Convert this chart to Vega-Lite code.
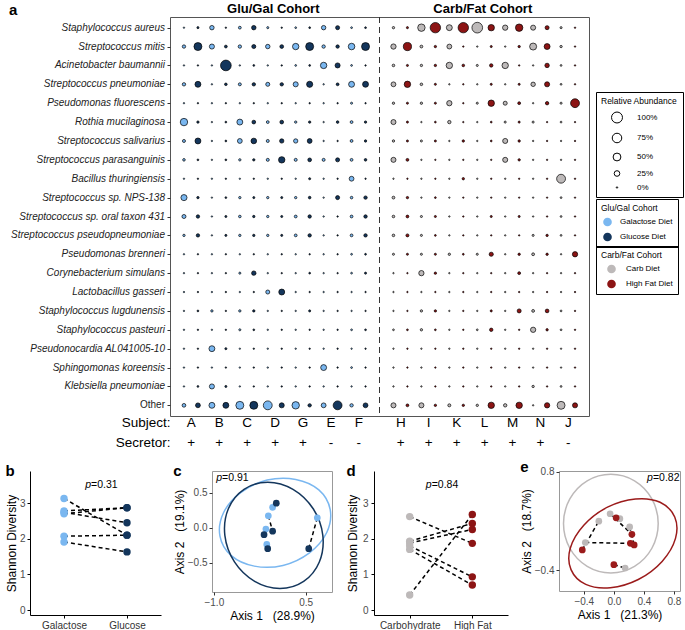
{
  "$schema": "https://vega.github.io/schema/vega-lite/v6.json",
  "padding": {"left": 5, "top": 1, "right": 0, "bottom": 0},
  "config": {
    "font": "Liberation Sans",
    "view": {"stroke": null},
    "axis": {"grid": false, "labelFont": "Liberation Sans", "titleFont": "Liberation Sans"},
    "legend": {"labelFont": "Liberation Sans", "titleFont": "Liberation Sans"},
    "title": {"font": "Liberation Sans"}
  },
  "datasets": {
    "taxa": [
      {"taxon":"Staphylococcus aureus","A_Gal":0,"A_Glu":2,"B_Gal":15,"B_Glu":0,"C_Gal":5,"C_Glu":15,"D_Gal":2,"D_Glu":0,"G_Gal":1,"G_Glu":1,"E_Gal":15,"E_Glu":12,"F_Gal":1,"F_Glu":1,"H_Carb":3,"H_Fat":2,"I_Carb":45,"I_Fat":90,"K_Carb":28,"K_Fat":90,"L_Carb":95,"L_Fat":33,"M_Carb":22,"M_Fat":45,"N_Carb":20,"N_Fat":12,"J_Carb":2,"J_Fat":0},
      {"taxon":"Streptococcus mitis","A_Gal":8,"A_Glu":52,"B_Gal":20,"B_Glu":5,"C_Gal":8,"C_Glu":12,"D_Gal":15,"D_Glu":10,"G_Gal":33,"G_Glu":52,"E_Gal":8,"E_Glu":8,"F_Gal":35,"F_Glu":52,"H_Carb":22,"H_Fat":55,"I_Carb":5,"I_Fat":3,"K_Carb":18,"K_Fat":0,"L_Carb":0,"L_Fat":2,"M_Carb":0,"M_Fat":3,"N_Carb":40,"N_Fat":28,"J_Carb":3,"J_Fat":0},
      {"taxon":"Acinetobacter baumannii","A_Gal":0,"A_Glu":0,"B_Gal":0,"B_Glu":95,"C_Gal":0,"C_Glu":1,"D_Gal":0,"D_Glu":0,"G_Gal":1,"G_Glu":1,"E_Gal":33,"E_Glu":20,"F_Gal":1,"F_Glu":0,"H_Carb":4,"H_Fat":2,"I_Carb":3,"I_Fat":3,"K_Carb":33,"K_Fat":4,"L_Carb":2,"L_Fat":8,"M_Carb":33,"M_Fat":0,"N_Carb":0,"N_Fat":15,"J_Carb":1,"J_Fat":0},
      {"taxon":"Streptococcus pneumoniae","A_Gal":8,"A_Glu":28,"B_Gal":0,"B_Glu":4,"C_Gal":6,"C_Glu":8,"D_Gal":12,"D_Glu":8,"G_Gal":20,"G_Glu":30,"E_Gal":0,"E_Glu":5,"F_Gal":28,"F_Glu":28,"H_Carb":18,"H_Fat":33,"I_Carb":4,"I_Fat":2,"K_Carb":0,"K_Fat":0,"L_Carb":0,"L_Fat":2,"M_Carb":0,"M_Fat":2,"N_Carb":15,"N_Fat":20,"J_Carb":1,"J_Fat":0},
      {"taxon":"Pseudomonas fluorescens","A_Gal":0,"A_Glu":0,"B_Gal":0,"B_Glu":0,"C_Gal":0,"C_Glu":0,"D_Gal":0,"D_Glu":0,"G_Gal":0,"G_Glu":0,"E_Gal":0,"E_Glu":0,"F_Gal":2,"F_Glu":0,"H_Carb":3,"H_Fat":2,"I_Carb":3,"I_Fat":2,"K_Carb":22,"K_Fat":0,"L_Carb":2,"L_Fat":33,"M_Carb":12,"M_Fat":5,"N_Carb":0,"N_Fat":8,"J_Carb":2,"J_Fat":65},
      {"taxon":"Rothia mucilaginosa","A_Gal":45,"A_Glu":3,"B_Gal":0,"B_Glu":1,"C_Gal":28,"C_Glu":10,"D_Gal":5,"D_Glu":10,"G_Gal":3,"G_Glu":3,"E_Gal":0,"E_Glu":4,"F_Gal":5,"F_Glu":3,"H_Carb":20,"H_Fat":2,"I_Carb":0,"I_Fat":1,"K_Carb":8,"K_Fat":0,"L_Carb":0,"L_Fat":1,"M_Carb":2,"M_Fat":2,"N_Carb":2,"N_Fat":0,"J_Carb":1,"J_Fat":0},
      {"taxon":"Streptococcus salivarius","A_Gal":6,"A_Glu":28,"B_Gal":0,"B_Glu":1,"C_Gal":18,"C_Glu":25,"D_Gal":6,"D_Glu":14,"G_Gal":14,"G_Glu":18,"E_Gal":0,"E_Glu":0,"F_Gal":5,"F_Glu":3,"H_Carb":3,"H_Fat":2,"I_Carb":2,"I_Fat":2,"K_Carb":0,"K_Fat":3,"L_Carb":0,"L_Fat":1,"M_Carb":20,"M_Fat":3,"N_Carb":0,"N_Fat":0,"J_Carb":0,"J_Fat":0},
      {"taxon":"Streptococcus parasanguinis","A_Gal":4,"A_Glu":1,"B_Gal":0,"B_Glu":1,"C_Gal":3,"C_Glu":3,"D_Gal":6,"D_Glu":33,"G_Gal":6,"G_Glu":10,"E_Gal":6,"E_Glu":12,"F_Gal":5,"F_Glu":4,"H_Carb":20,"H_Fat":5,"I_Carb":0,"I_Fat":0,"K_Carb":0,"K_Fat":0,"L_Carb":0,"L_Fat":0,"M_Carb":20,"M_Fat":3,"N_Carb":0,"N_Fat":0,"J_Carb":0,"J_Fat":0},
      {"taxon":"Bacillus thuringiensis","A_Gal":0,"A_Glu":0,"B_Gal":0,"B_Glu":0,"C_Gal":0,"C_Glu":0,"D_Gal":0,"D_Glu":0,"G_Gal":0,"G_Glu":2,"E_Gal":0,"E_Glu":0,"F_Gal":18,"F_Glu":0,"H_Carb":0,"H_Fat":0,"I_Carb":0,"I_Fat":0,"K_Carb":0,"K_Fat":3,"L_Carb":0,"L_Fat":0,"M_Carb":0,"M_Fat":0,"N_Carb":0,"N_Fat":0,"J_Carb":65,"J_Fat":0},
      {"taxon":"Streptococcus sp. NPS-138","A_Gal":30,"A_Glu":3,"B_Gal":0,"B_Glu":1,"C_Gal":3,"C_Glu":2,"D_Gal":3,"D_Glu":2,"G_Gal":3,"G_Glu":4,"E_Gal":0,"E_Glu":12,"F_Gal":4,"F_Glu":8,"H_Carb":5,"H_Fat":3,"I_Carb":0,"I_Fat":1,"K_Carb":0,"K_Fat":0,"L_Carb":0,"L_Fat":0,"M_Carb":0,"M_Fat":0,"N_Carb":0,"N_Fat":0,"J_Carb":1,"J_Fat":0},
      {"taxon":"Streptococcus sp. oral taxon 431","A_Gal":12,"A_Glu":8,"B_Gal":0,"B_Glu":2,"C_Gal":4,"C_Glu":3,"D_Gal":3,"D_Glu":2,"G_Gal":5,"G_Glu":8,"E_Gal":0,"E_Glu":0,"F_Gal":5,"F_Glu":8,"H_Carb":4,"H_Fat":5,"I_Carb":2,"I_Fat":2,"K_Carb":0,"K_Fat":0,"L_Carb":0,"L_Fat":2,"M_Carb":0,"M_Fat":2,"N_Carb":0,"N_Fat":0,"J_Carb":1,"J_Fat":0},
      {"taxon":"Streptococcus pseudopneumoniae","A_Gal":3,"A_Glu":8,"B_Gal":0,"B_Glu":2,"C_Gal":3,"C_Glu":3,"D_Gal":3,"D_Glu":2,"G_Gal":5,"G_Glu":8,"E_Gal":0,"E_Glu":0,"F_Gal":5,"F_Glu":8,"H_Carb":4,"H_Fat":6,"I_Carb":2,"I_Fat":1,"K_Carb":0,"K_Fat":0,"L_Carb":0,"L_Fat":0,"M_Carb":0,"M_Fat":0,"N_Carb":2,"N_Fat":3,"J_Carb":1,"J_Fat":0},
      {"taxon":"Pseudomonas brenneri","A_Gal":0,"A_Glu":0,"B_Gal":0,"B_Glu":0,"C_Gal":0,"C_Glu":0,"D_Gal":0,"D_Glu":0,"G_Gal":0,"G_Glu":0,"E_Gal":0,"E_Glu":0,"F_Gal":1,"F_Glu":1,"H_Carb":2,"H_Fat":2,"I_Carb":2,"I_Fat":2,"K_Carb":3,"K_Fat":1,"L_Carb":2,"L_Fat":13,"M_Carb":0,"M_Fat":3,"N_Carb":5,"N_Fat":3,"J_Carb":0,"J_Fat":22},
      {"taxon":"Corynebacterium simulans","A_Gal":0,"A_Glu":0,"B_Gal":0,"B_Glu":0,"C_Gal":2,"C_Glu":15,"D_Gal":0,"D_Glu":0,"G_Gal":0,"G_Glu":1,"E_Gal":0,"E_Glu":0,"F_Gal":1,"F_Glu":2,"H_Carb":0,"H_Fat":0,"I_Carb":22,"I_Fat":3,"K_Carb":0,"K_Fat":0,"L_Carb":0,"L_Fat":0,"M_Carb":0,"M_Fat":5,"N_Carb":0,"N_Fat":0,"J_Carb":0,"J_Fat":0},
      {"taxon":"Lactobacillus gasseri","A_Gal":0,"A_Glu":0,"B_Gal":0,"B_Glu":0,"C_Gal":0,"C_Glu":0,"D_Gal":12,"D_Glu":28,"G_Gal":0,"G_Glu":0,"E_Gal":0,"E_Glu":0,"F_Gal":0,"F_Glu":0,"H_Carb":0,"H_Fat":0,"I_Carb":0,"I_Fat":0,"K_Carb":0,"K_Fat":0,"L_Carb":0,"L_Fat":0,"M_Carb":0,"M_Fat":0,"N_Carb":0,"N_Fat":0,"J_Carb":0,"J_Fat":0},
      {"taxon":"Staphylococcus lugdunensis","A_Gal":0,"A_Glu":1,"B_Gal":3,"B_Glu":0,"C_Gal":3,"C_Glu":3,"D_Gal":0,"D_Glu":0,"G_Gal":0,"G_Glu":2,"E_Gal":0,"E_Glu":0,"F_Gal":0,"F_Glu":0,"H_Carb":0,"H_Fat":0,"I_Carb":3,"I_Fat":3,"K_Carb":0,"K_Fat":0,"L_Carb":0,"L_Fat":2,"M_Carb":0,"M_Fat":12,"N_Carb":5,"N_Fat":10,"J_Carb":1,"J_Fat":0},
      {"taxon":"Staphylococcus pasteuri","A_Gal":0,"A_Glu":0,"B_Gal":0,"B_Glu":0,"C_Gal":2,"C_Glu":1,"D_Gal":0,"D_Glu":0,"G_Gal":0,"G_Glu":0,"E_Gal":0,"E_Glu":0,"F_Gal":1,"F_Glu":1,"H_Carb":1,"H_Fat":1,"I_Carb":3,"I_Fat":1,"K_Carb":0,"K_Fat":0,"L_Carb":1,"L_Fat":8,"M_Carb":0,"M_Fat":0,"N_Carb":22,"N_Fat":3,"J_Carb":1,"J_Fat":0},
      {"taxon":"Pseudonocardia AL041005-10","A_Gal":0,"A_Glu":0,"B_Gal":28,"B_Glu":2,"C_Gal":0,"C_Glu":0,"D_Gal":0,"D_Glu":0,"G_Gal":0,"G_Glu":0,"E_Gal":0,"E_Glu":0,"F_Gal":0,"F_Glu":0,"H_Carb":0,"H_Fat":0,"I_Carb":0,"I_Fat":0,"K_Carb":0,"K_Fat":0,"L_Carb":0,"L_Fat":0,"M_Carb":0,"M_Fat":0,"N_Carb":0,"N_Fat":0,"J_Carb":0,"J_Fat":0},
      {"taxon":"Sphingomonas koreensis","A_Gal":0,"A_Glu":0,"B_Gal":0,"B_Glu":0,"C_Gal":0,"C_Glu":0,"D_Gal":0,"D_Glu":0,"G_Gal":0,"G_Glu":0,"E_Gal":28,"E_Glu":0,"F_Gal":1,"F_Glu":0,"H_Carb":0,"H_Fat":0,"I_Carb":0,"I_Fat":0,"K_Carb":0,"K_Fat":0,"L_Carb":0,"L_Fat":0,"M_Carb":0,"M_Fat":0,"N_Carb":0,"N_Fat":0,"J_Carb":0,"J_Fat":0},
      {"taxon":"Klebsiella pneumoniae","A_Gal":0,"A_Glu":1,"B_Gal":20,"B_Glu":2,"C_Gal":0,"C_Glu":0,"D_Gal":0,"D_Glu":0,"G_Gal":0,"G_Glu":0,"E_Gal":0,"E_Glu":0,"F_Gal":0,"F_Glu":0,"H_Carb":0,"H_Fat":0,"I_Carb":0,"I_Fat":0,"K_Carb":0,"K_Fat":0,"L_Carb":0,"L_Fat":0,"M_Carb":0,"M_Fat":0,"N_Carb":3,"N_Fat":0,"J_Carb":1,"J_Fat":0},
      {"taxon":"Other","A_Gal":10,"A_Glu":18,"B_Gal":28,"B_Glu":28,"C_Gal":52,"C_Glu":52,"D_Gal":65,"D_Glu":20,"G_Gal":45,"G_Glu":8,"E_Gal":18,"E_Glu":65,"F_Gal":8,"F_Glu":18,"H_Carb":20,"H_Fat":5,"I_Carb":20,"I_Fat":3,"K_Carb":6,"K_Fat":3,"L_Carb":3,"L_Fat":33,"M_Carb":8,"M_Fat":33,"N_Carb":0,"N_Fat":22,"J_Carb":52,"J_Fat":20}
    ],
    "samples": [
      {"sample":"A_Gal","diet":"Galactose Diet"},{"sample":"A_Glu","diet":"Glucose Diet"},
      {"sample":"B_Gal","diet":"Galactose Diet"},{"sample":"B_Glu","diet":"Glucose Diet"},
      {"sample":"C_Gal","diet":"Galactose Diet"},{"sample":"C_Glu","diet":"Glucose Diet"},
      {"sample":"D_Gal","diet":"Galactose Diet"},{"sample":"D_Glu","diet":"Glucose Diet"},
      {"sample":"G_Gal","diet":"Galactose Diet"},{"sample":"G_Glu","diet":"Glucose Diet"},
      {"sample":"E_Gal","diet":"Galactose Diet"},{"sample":"E_Glu","diet":"Glucose Diet"},
      {"sample":"F_Gal","diet":"Galactose Diet"},{"sample":"F_Glu","diet":"Glucose Diet"},
      {"sample":"H_Carb","diet":"Carb Diet"},{"sample":"H_Fat","diet":"High Fat Diet"},
      {"sample":"I_Carb","diet":"Carb Diet"},{"sample":"I_Fat","diet":"High Fat Diet"},
      {"sample":"K_Carb","diet":"Carb Diet"},{"sample":"K_Fat","diet":"High Fat Diet"},
      {"sample":"L_Carb","diet":"Carb Diet"},{"sample":"L_Fat","diet":"High Fat Diet"},
      {"sample":"M_Carb","diet":"Carb Diet"},{"sample":"M_Fat","diet":"High Fat Diet"},
      {"sample":"N_Carb","diet":"Carb Diet"},{"sample":"N_Fat","diet":"High Fat Diet"},
      {"sample":"J_Carb","diet":"Carb Diet"},{"sample":"J_Fat","diet":"High Fat Diet"}
    ],
    "bdata": [
      {"pair":1,"diet":"Galactose","value":3.13},{"pair":1,"diet":"Glucose","value":2.10},
      {"pair":2,"diet":"Galactose","value":2.78},{"pair":2,"diet":"Glucose","value":2.87},
      {"pair":3,"diet":"Galactose","value":2.74},{"pair":3,"diet":"Glucose","value":2.45},
      {"pair":4,"diet":"Galactose","value":2.70},{"pair":4,"diet":"Glucose","value":2.87},
      {"pair":5,"diet":"Galactose","value":2.07},{"pair":5,"diet":"Glucose","value":2.10},
      {"pair":6,"diet":"Galactose","value":1.91},{"pair":6,"diet":"Glucose","value":1.63}
    ],
    "cpts": [
      {"pair":1,"diet":"Galactose","x":-0.04,"y":0.29},{"pair":1,"diet":"Glucose","x":0.02,"y":0.35},
      {"pair":2,"diet":"Galactose","x":-0.11,"y":0.17},{"pair":2,"diet":"Glucose","x":-0.04,"y":-0.05},
      {"pair":3,"diet":"Galactose","x":-0.15,"y":-0.02},{"pair":3,"diet":"Glucose","x":-0.18,"y":-0.10},
      {"pair":4,"diet":"Galactose","x":-0.135,"y":-0.24},{"pair":4,"diet":"Glucose","x":-0.12,"y":-0.30},
      {"pair":5,"diet":"Galactose","x":0.69,"y":0.14},{"pair":5,"diet":"Glucose","x":0.55,"y":-0.30}
    ],
    "cell": [
      {"diet":"Galactose","k":0,"x":0.90,"y":0.26},{"diet":"Galactose","k":1,"x":0.715,"y":0.54},
      {"diet":"Galactose","k":2,"x":0.338,"y":0.69},{"diet":"Galactose","k":3,"x":-0.129,"y":0.68},
      {"diet":"Galactose","k":4,"x":-0.562,"y":0.50},{"diet":"Galactose","k":5,"x":-0.844,"y":0.21},
      {"diet":"Galactose","k":6,"x":-0.90,"y":-0.12},{"diet":"Galactose","k":7,"x":-0.715,"y":-0.40},
      {"diet":"Galactose","k":8,"x":-0.338,"y":-0.55},{"diet":"Galactose","k":9,"x":0.129,"y":-0.54},
      {"diet":"Galactose","k":10,"x":0.562,"y":-0.36},{"diet":"Galactose","k":11,"x":0.844,"y":-0.07},
      {"diet":"Glucose","k":0,"x":0.78,"y":-0.11},{"diet":"Glucose","k":1,"x":0.623,"y":0.27},
      {"diet":"Glucose","k":2,"x":0.293,"y":0.548},{"diet":"Glucose","k":3,"x":-0.12,"y":0.65},
      {"diet":"Glucose","k":4,"x":-0.507,"y":0.548},{"diet":"Glucose","k":5,"x":-0.763,"y":0.27},
      {"diet":"Glucose","k":6,"x":-0.82,"y":-0.11},{"diet":"Glucose","k":7,"x":-0.663,"y":-0.49},
      {"diet":"Glucose","k":8,"x":-0.333,"y":-0.768},{"diet":"Glucose","k":9,"x":0.08,"y":-0.87},
      {"diet":"Glucose","k":10,"x":0.467,"y":-0.768},{"diet":"Glucose","k":11,"x":0.723,"y":-0.49}
    ],
    "ddata": [
      {"pair":1,"diet":"Carbohydrate","value":2.62},{"pair":1,"diet":"High Fat","value":1.87},
      {"pair":2,"diet":"Carbohydrate","value":1.93},{"pair":2,"diet":"High Fat","value":2.43},
      {"pair":3,"diet":"Carbohydrate","value":1.88},{"pair":3,"diet":"High Fat","value":2.26},
      {"pair":4,"diet":"Carbohydrate","value":1.80},{"pair":4,"diet":"High Fat","value":0.93},
      {"pair":5,"diet":"Carbohydrate","value":1.70},{"pair":5,"diet":"High Fat","value":0.70},
      {"pair":6,"diet":"Carbohydrate","value":0.42},{"pair":6,"diet":"High Fat","value":2.68}
    ],
    "epts": [
      {"pair":1,"diet":"Carbohydrate","x":-0.20,"y":0.20},{"pair":1,"diet":"High Fat","x":-0.42,"y":-0.15},
      {"pair":2,"diet":"Carbohydrate","x":-0.38,"y":-0.06},{"pair":2,"diet":"High Fat","x":0.22,"y":-0.07},
      {"pair":3,"diet":"Carbohydrate","x":-0.05,"y":0.29},{"pair":3,"diet":"High Fat","x":0.24,"y":0.04},
      {"pair":4,"diet":"Carbohydrate","x":0.08,"y":0.23},{"pair":4,"diet":"High Fat","x":0.03,"y":0.24},
      {"pair":5,"diet":"Carbohydrate","x":0.21,"y":0.13},{"pair":5,"diet":"High Fat","x":0.27,"y":-0.09},
      {"pair":6,"diet":"Carbohydrate","x":0.15,"y":-0.37},{"pair":6,"diet":"High Fat","x":0.00,"y":-0.33}
    ],
    "eell": [
      {"diet":"Carbohydrate","k":0,"x":0.59,"y":0.17},{"diet":"Carbohydrate","k":1,"x":0.506,"y":0.47},
      {"diet":"Carbohydrate","k":2,"x":0.275,"y":0.69},{"diet":"Carbohydrate","k":3,"x":-0.04,"y":0.77},
      {"diet":"Carbohydrate","k":4,"x":-0.355,"y":0.69},{"diet":"Carbohydrate","k":5,"x":-0.586,"y":0.47},
      {"diet":"Carbohydrate","k":6,"x":-0.67,"y":0.17},{"diet":"Carbohydrate","k":7,"x":-0.586,"y":-0.13},
      {"diet":"Carbohydrate","k":8,"x":-0.355,"y":-0.35},{"diet":"Carbohydrate","k":9,"x":-0.04,"y":-0.43},
      {"diet":"Carbohydrate","k":10,"x":0.275,"y":-0.35},{"diet":"Carbohydrate","k":11,"x":0.506,"y":-0.13},
      {"diet":"High Fat","k":0,"x":0.81,"y":0.25},{"diet":"High Fat","k":1,"x":0.615,"y":0.43},
      {"diet":"High Fat","k":2,"x":0.287,"y":0.47},{"diet":"High Fat","k":3,"x":-0.085,"y":0.37},
      {"diet":"High Fat","k":4,"x":-0.40,"y":0.15},{"diet":"High Fat","k":5,"x":-0.58,"y":-0.13},
      {"diet":"High Fat","k":6,"x":-0.57,"y":-0.39},{"diet":"High Fat","k":7,"x":-0.374,"y":-0.57},
      {"diet":"High Fat","k":8,"x":-0.047,"y":-0.61},{"diet":"High Fat","k":9,"x":0.325,"y":-0.51},
      {"diet":"High Fat","k":10,"x":0.642,"y":-0.29},{"diet":"High Fat","k":11,"x":0.82,"y":-0.01}
    ]
  },
  "spacing": 10,
  "resolve": {"scale": {"color": "independent", "size": "independent"}},
  "vconcat": [
    {
      "spacing": -4,
      "resolve": {"scale": {"color": "independent", "size": "independent"}},
      "hconcat": [
        {
          "width": 135, "height": 399,
          "view": {"stroke": null},
          "title": {"text": "a", "anchor": "start", "frame": "group", "fontSize": 15, "fontWeight": "bold", "offset": -1, "dx": -21, "color": "black"},
          "data": {"name": "taxa"},
          "layer": [
            {
              "transform": [{"filter": "datum.taxon != 'Other'"}],
              "mark": {"type": "text", "align": "right", "baseline": "middle", "fontStyle": "italic", "fontSize": 10, "color": "#222"},
              "encoding": {
                "x": {"datum": 1, "type": "quantitative", "scale": {"domain": [0, 1]},
                      "axis": {"orient": "bottom", "labels": false, "ticks": false, "domain": false, "grid": false,
                               "title": ["Subject:", "Secretor:"], "titleX": 140, "titleY": -1, "titleAlign": "right", "titleBaseline": "top",
                               "titleAngle": 0, "titleFontSize": 13.5, "titleFontWeight": "normal", "titleLineHeight": 20, "titleColor": "black"}},
                "y": {"field": "taxon", "type": "nominal",
                      "scale": {"type": "point", "padding": 0.565, "domain": ["Staphylococcus aureus","Streptococcus mitis","Acinetobacter baumannii","Streptococcus pneumoniae","Pseudomonas fluorescens","Rothia mucilaginosa","Streptococcus salivarius","Streptococcus parasanguinis","Bacillus thuringiensis","Streptococcus sp. NPS-138","Streptococcus sp. oral taxon 431","Streptococcus pseudopneumoniae","Pseudomonas brenneri","Corynebacterium simulans","Lactobacillus gasseri","Staphylococcus lugdunensis","Staphylococcus pasteuri","Pseudonocardia AL041005-10","Sphingomonas koreensis","Klebsiella pneumoniae","Other"]},
                      "axis": null},
                "text": {"field": "taxon"}
              }
            },
            {
              "transform": [{"filter": "datum.taxon == 'Other'"}],
              "mark": {"type": "text", "align": "right", "baseline": "middle", "fontStyle": "normal", "fontSize": 10, "color": "#222"},
              "encoding": {
                "x": {"datum": 1, "type": "quantitative"},
                "y": {"field": "taxon", "type": "nominal"},
                "text": {"field": "taxon"}
              }
            }
          ]
        },
        {
          "width": 419,
          "height": 399,
          "view": {"stroke": "#555", "strokeWidth": 1},
          "resolve": {"scale": {"color": "independent"}, "axis": {"x": "independent"}},
          "layer": [
            {
              "data": {"values": [{}]},
              "mark": {"type": "rule", "strokeDash": [6, 4], "color": "#333", "strokeWidth": 1},
              "encoding": {
                "x": {
                  "datum": "gap", "type": "nominal",
                  "scale": {"type": "point", "padding": 1.37, "domain": ["A_Gal","A_Glu","B_Gal","B_Glu","C_Gal","C_Glu","D_Gal","D_Glu","G_Gal","G_Glu","E_Gal","E_Glu","F_Gal","F_Glu","gap","H_Carb","H_Fat","I_Carb","I_Fat","K_Carb","K_Fat","L_Carb","L_Fat","M_Carb","M_Fat","N_Carb","N_Fat","J_Carb","J_Fat"]},
                  "axis": {
                    "orient": "top", "title": null,
                    "labelExpr": "datum.value == 'D_Gal' ? 'Glu/Gal Cohort' : datum.value == 'L_Carb' ? 'Carb/Fat Cohort' : ''",
                    "labelOffset": 5, "labelFontSize": 13, "labelFontWeight": "bold", "labelColor": "black", "labelPadding": 2,
                    "ticks": false, "domain": false, "labelOverlap": false, "labelBound": false, "labelFlush": false, "labelAngle": 0
                  }
                }
              }
            },
            {
              "data": {"name": "taxa"},
              "transform": [
                {"fold": ["A_Gal","A_Glu","B_Gal","B_Glu","C_Gal","C_Glu","D_Gal","D_Glu","G_Gal","G_Glu","E_Gal","E_Glu","F_Gal","F_Glu"], "as": ["sample", "abund"]},
                {"lookup": "sample", "from": {"data": {"name": "samples"}, "key": "sample", "fields": ["diet"]}}
              ],
              "mark": {"type": "circle", "stroke": "black", "strokeWidth": 0.7, "opacity": 1},
              "encoding": {
                "x": {
                  "field": "sample", "type": "nominal",
                  "scale": {"type": "point", "padding": 1.37, "domain": ["A_Gal","A_Glu","B_Gal","B_Glu","C_Gal","C_Glu","D_Gal","D_Glu","G_Gal","G_Glu","E_Gal","E_Glu","F_Gal","F_Glu","gap","H_Carb","H_Fat","I_Carb","I_Fat","K_Carb","K_Fat","L_Carb","L_Fat","M_Carb","M_Fat","N_Carb","N_Fat","J_Carb","J_Fat"]},
                  "axis": {
                    "orient": "bottom", "title": null,
                    "labelExpr": "(indexof(datum.value,'_Gal') > 0 || indexof(datum.value,'_Carb') > 0) ? [substring(datum.value,0,1), indexof('EFJ', substring(datum.value,0,1)) >= 0 ? '-' : '+'] : ''",
                    "labelFontSize": 13.5, "labelLineHeight": 20, "labelOffset": 6.8, "labelPadding": -1, "labelAngle": 0,
                    "labelBaseline": "top", "labelColor": "black",
                    "ticks": false, "domain": false, "labelOverlap": false, "labelBound": false, "labelFlush": false
                  }
                },
                "y": {
                  "field": "taxon", "type": "nominal",
                  "scale": {"type": "point", "padding": 0.565, "domain": ["Staphylococcus aureus","Streptococcus mitis","Acinetobacter baumannii","Streptococcus pneumoniae","Pseudomonas fluorescens","Rothia mucilaginosa","Streptococcus salivarius","Streptococcus parasanguinis","Bacillus thuringiensis","Streptococcus sp. NPS-138","Streptococcus sp. oral taxon 431","Streptococcus pseudopneumoniae","Pseudomonas brenneri","Corynebacterium simulans","Lactobacillus gasseri","Staphylococcus lugdunensis","Staphylococcus pasteuri","Pseudonocardia AL041005-10","Sphingomonas koreensis","Klebsiella pneumoniae","Other"]},
                  "axis": {"title": null, "labels": false, "tickSize": 3, "tickColor": "#333", "domain": false}
                },
                "size": {
                  "field": "abund", "type": "quantitative",
                  "scale": {"domain": [0, 100], "range": [2, 120]},
                  "legend": {
                    "title": "Relative Abundance", "orient": "none", "legendX": 426, "legendY": 75,
                    "values": [100, 75, 50, 25, 0], "labelExpr": "datum.value + '%'",
                    "strokeColor": "black", "padding": 5, "titleFontSize": 8.5, "titleFontWeight": "normal", "titleColor": "black", "titlePadding": 6,
                    "labelFontSize": 8, "labelColor": "black", "rowPadding": 5, "labelOffset": 14, "symbolOffset": 10,
                    "symbolType": "circle", "symbolStrokeColor": "black", "symbolFillColor": "white", "symbolStrokeWidth": 1,
                    "encode": {"symbols": {"update": {"fill": {"value": "white"}, "stroke": {"value": "black"}, "strokeWidth": {"value": 1}}}}
                  }
                },
                "color": {
                  "field": "diet", "type": "nominal",
                  "scale": {"domain": ["Galactose Diet", "Glucose Diet"], "range": ["#7ab7f0", "#14365c"]},
                  "legend": {
                    "title": "Glu/Gal Cohort", "orient": "none", "legendX": 426, "legendY": 182,
                    "strokeColor": "black", "padding": 5, "titleFontSize": 8.5, "titleFontWeight": "normal", "titleColor": "black", "titlePadding": 5,
                    "labelFontSize": 8, "labelColor": "black", "rowPadding": 6, "symbolSize": 75, "symbolType": "circle", "symbolStrokeWidth": 0,
                    "labelOffset": 8, "symbolOffset": 2
                  }
                }
              }
            },
            {
              "data": {"name": "taxa"},
              "transform": [
                {"fold": ["H_Carb","H_Fat","I_Carb","I_Fat","K_Carb","K_Fat","L_Carb","L_Fat","M_Carb","M_Fat","N_Carb","N_Fat","J_Carb","J_Fat"], "as": ["sample", "abund"]},
                {"lookup": "sample", "from": {"data": {"name": "samples"}, "key": "sample", "fields": ["diet"]}}
              ],
              "mark": {"type": "circle", "stroke": "black", "strokeWidth": 0.7, "opacity": 1},
              "encoding": {
                "x": {
                  "field": "sample", "type": "nominal",
                  "scale": {"type": "point", "padding": 1.37, "domain": ["A_Gal","A_Glu","B_Gal","B_Glu","C_Gal","C_Glu","D_Gal","D_Glu","G_Gal","G_Glu","E_Gal","E_Glu","F_Gal","F_Glu","gap","H_Carb","H_Fat","I_Carb","I_Fat","K_Carb","K_Fat","L_Carb","L_Fat","M_Carb","M_Fat","N_Carb","N_Fat","J_Carb","J_Fat"]},
                  "axis": null
                },
                "y": {
                  "field": "taxon", "type": "nominal",
                  "scale": {"type": "point", "padding": 0.565, "domain": ["Staphylococcus aureus","Streptococcus mitis","Acinetobacter baumannii","Streptococcus pneumoniae","Pseudomonas fluorescens","Rothia mucilaginosa","Streptococcus salivarius","Streptococcus parasanguinis","Bacillus thuringiensis","Streptococcus sp. NPS-138","Streptococcus sp. oral taxon 431","Streptococcus pseudopneumoniae","Pseudomonas brenneri","Corynebacterium simulans","Lactobacillus gasseri","Staphylococcus lugdunensis","Staphylococcus pasteuri","Pseudonocardia AL041005-10","Sphingomonas koreensis","Klebsiella pneumoniae","Other"]},
                  "axis": {"title": null, "labels": false, "tickSize": 3, "tickColor": "#333", "domain": false}
                },
                "size": {"field": "abund", "type": "quantitative", "scale": {"domain": [0, 100], "range": [2, 120]}},
                "color": {
                  "field": "diet", "type": "nominal",
                  "scale": {"domain": ["Carb Diet", "High Fat Diet"], "range": ["#bdb9b9", "#8c1414"]},
                  "legend": {
                    "title": "Carb/Fat Cohort", "orient": "none", "legendX": 426, "legendY": 229,
                    "strokeColor": "black", "padding": 5, "titleFontSize": 8.5, "titleFontWeight": "normal", "titleColor": "black", "titlePadding": 5,
                    "labelFontSize": 8, "labelColor": "black", "rowPadding": 6, "symbolSize": 75, "symbolType": "circle", "symbolStrokeWidth": 0,
                    "labelOffset": 10, "symbolOffset": 6
                  }
                }
              }
            }
          ]
        }
      ]
    },
    {
      "spacing": 11,
      "resolve": {"scale": {"color": "independent", "size": "independent"}},
      "hconcat": [
        {
          "width": 131, "height": 144,
          "view": {"stroke": null},
          "title": {"text": "b", "anchor": "start", "frame": "bounds", "fontSize": 15, "fontWeight": "bold", "offset": -8, "color": "black"},
          "layer": [
            {
              "data": {"name": "bdata"},
              "mark": {"type": "line", "strokeDash": [4, 3], "color": "black", "strokeWidth": 1.5},
              "encoding": {
                "x": {"field": "diet", "type": "nominal", "scale": {"type": "point", "padding": 0.54, "domain": ["Galactose", "Glucose"]},
                      "axis": {"title": null, "labelAngle": 0, "labelFontSize": 10, "labelColor": "#333", "tickSize": 3, "tickColor": "black", "domainColor": "black", "labelPadding": 2}},
                "y": {"field": "value", "type": "quantitative", "scale": {"domain": [-0.14, 3.9], "nice": false, "zero": false},
                      "axis": {"title": "Shannon Diversity", "values": [0, 1, 2, 3], "labelFontSize": 10, "labelColor": "#4d4d4d", "titleFontSize": 12, "titleFontWeight": "normal", "titleColor": "black", "tickSize": 3, "tickColor": "black", "domainColor": "black", "labelPadding": 2, "titlePadding": 1}},
                "detail": {"field": "pair", "type": "nominal"}
              }
            },
            {
              "data": {"name": "bdata"},
              "mark": {"type": "circle", "size": 55, "opacity": 1},
              "encoding": {
                "x": {"field": "diet", "type": "nominal"},
                "y": {"field": "value", "type": "quantitative"},
                "color": {"field": "diet", "type": "nominal", "scale": {"domain": ["Galactose", "Glucose"], "range": ["#7ab7f0", "#14365c"]}, "legend": null}
              }
            },
            {
              "data": {"values": [{"t": "=0.31"}]},
              "mark": {"type": "text", "text": "p", "fontStyle": "italic", "align": "right", "dx": 27, "fontSize": 10.5, "baseline": "middle"},
              "encoding": {"x": {"datum": "Galactose", "type": "nominal"}, "y": {"datum": 3.5, "type": "quantitative"}}
            },
            {
              "data": {"values": [{"t": "=0.31"}]},
              "mark": {"type": "text", "align": "left", "dx": 27, "fontSize": 10.5, "baseline": "middle"},
              "encoding": {"x": {"datum": "Galactose", "type": "nominal"}, "y": {"datum": 3.5, "type": "quantitative"}, "text": {"field": "t"}}
            }
          ]
        },
        {
          "width": 120, "height": 121,
          "view": {"stroke": "#999"},
          "title": {"text": "c", "anchor": "start", "frame": "bounds", "fontSize": 15, "fontWeight": "bold", "offset": -8, "color": "black"},
          "layer": [
            {
              "data": {"name": "cell"},
              "mark": {"type": "line", "interpolate": "cardinal-closed", "strokeWidth": 1.5},
              "encoding": {
                "x": {"field": "x", "type": "quantitative", "scale": {"domain": [-1.03, 0.93], "nice": false, "zero": false},
                      "axis": {"title": "Axis 1\u00a0\u00a0\u00a0(28.9%)", "values": [-1, -0.5, 0, 0.5], "format": ".1f", "domain": false, "labelFontSize": 10, "labelColor": "#4d4d4d", "titleFontSize": 12, "titleFontWeight": "normal", "titleColor": "black", "tickSize": 3, "tickColor": "#333", "labelPadding": 2, "titlePadding": 3}},
                "y": {"field": "y", "type": "quantitative", "scale": {"domain": [-0.92, 0.81], "nice": false, "zero": false},
                      "axis": {"title": "Axis 2\u00a0\u00a0\u00a0(19.1%)", "values": [-0.5, 0, 0.5], "format": ".1f", "domain": false, "labelFontSize": 10, "labelColor": "#4d4d4d", "titleFontSize": 12, "titleFontWeight": "normal", "titleColor": "black", "tickSize": 3, "tickColor": "#333", "labelPadding": 2, "titlePadding": 1}},
                "color": {"field": "diet", "type": "nominal", "scale": {"domain": ["Galactose", "Glucose"], "range": ["#7ab7f0", "#14365c"]}, "legend": null},
                "order": {"field": "k", "type": "quantitative"}
              }
            },
            {
              "data": {"name": "cpts"},
              "mark": {"type": "line", "strokeDash": [4, 3], "color": "black", "strokeWidth": 1.5},
              "encoding": {"x": {"field": "x", "type": "quantitative"}, "y": {"field": "y", "type": "quantitative"}, "detail": {"field": "pair", "type": "nominal"}}
            },
            {
              "data": {"name": "cpts"},
              "mark": {"type": "circle", "size": 45, "opacity": 1},
              "encoding": {"x": {"field": "x", "type": "quantitative"}, "y": {"field": "y", "type": "quantitative"}, "color": {"field": "diet", "type": "nominal", "legend": null}}
            },
            {
              "data": {"values": [{"t": "=0.91"}]},
              "mark": {"type": "text", "text": "p", "fontStyle": "italic", "align": "right", "fontSize": 10.5, "baseline": "middle"},
              "encoding": {"x": {"datum": -0.865, "type": "quantitative"}, "y": {"datum": 0.71, "type": "quantitative"}}
            },
            {
              "data": {"values": [{"t": "=0.91"}]},
              "mark": {"type": "text", "align": "left", "fontSize": 10.5, "baseline": "middle"},
              "encoding": {"x": {"datum": -0.865, "type": "quantitative"}, "y": {"datum": 0.71, "type": "quantitative"}, "text": {"field": "t"}}
            }
          ]
        },
        {
          "width": 134, "height": 144,
          "view": {"stroke": null},
          "title": {"text": "d", "anchor": "start", "frame": "bounds", "fontSize": 15, "fontWeight": "bold", "offset": -8, "color": "black"},
          "layer": [
            {
              "data": {"name": "ddata"},
              "mark": {"type": "line", "strokeDash": [4, 3], "color": "black", "strokeWidth": 1.5},
              "encoding": {
                "x": {"field": "diet", "type": "nominal", "scale": {"type": "point", "padding": 0.57, "domain": ["Carbohydrate", "High Fat"]},
                      "axis": {"title": null, "labelAngle": 0, "labelFontSize": 10, "labelColor": "#333", "tickSize": 3, "tickColor": "black", "domainColor": "black", "labelPadding": 2}},
                "y": {"field": "value", "type": "quantitative", "scale": {"domain": [-0.14, 3.9], "nice": false, "zero": false},
                      "axis": {"title": "Shannon Diversity", "values": [0, 1, 2, 3], "labelFontSize": 10, "labelColor": "#4d4d4d", "titleFontSize": 12, "titleFontWeight": "normal", "titleColor": "black", "tickSize": 3, "tickColor": "black", "domainColor": "black", "labelPadding": 3, "titlePadding": 3}},
                "detail": {"field": "pair", "type": "nominal"}
              }
            },
            {
              "data": {"name": "ddata"},
              "mark": {"type": "circle", "size": 55, "opacity": 1},
              "encoding": {
                "x": {"field": "diet", "type": "nominal"},
                "y": {"field": "value", "type": "quantitative"},
                "color": {"field": "diet", "type": "nominal", "scale": {"domain": ["Carbohydrate", "High Fat"], "range": ["#bdb9b9", "#8c1414"]}, "legend": null}
              }
            },
            {
              "data": {"values": [{"t": "=0.84"}]},
              "mark": {"type": "text", "text": "p", "fontStyle": "italic", "align": "right", "dx": 22, "fontSize": 10.5, "baseline": "middle"},
              "encoding": {"x": {"datum": "Carbohydrate", "type": "nominal"}, "y": {"datum": 3.5, "type": "quantitative"}}
            },
            {
              "data": {"values": [{"t": "=0.84"}]},
              "mark": {"type": "text", "align": "left", "dx": 22, "fontSize": 10.5, "baseline": "middle"},
              "encoding": {"x": {"datum": "Carbohydrate", "type": "nominal"}, "y": {"datum": 3.5, "type": "quantitative"}, "text": {"field": "t"}}
            }
          ]
        },
        {
          "width": 121, "height": 120,
          "view": {"stroke": "#999"},
          "title": {"text": "e", "anchor": "start", "frame": "bounds", "fontSize": 15, "fontWeight": "bold", "offset": -8, "color": "black"},
          "layer": [
            {
              "data": {"name": "eell"},
              "mark": {"type": "line", "interpolate": "cardinal-closed", "strokeWidth": 1.5},
              "encoding": {
                "x": {"field": "x", "type": "quantitative", "scale": {"domain": [-0.73, 0.88], "nice": false, "zero": false},
                      "axis": {"title": "Axis 1\u00a0\u00a0\u00a0(21.3%)", "values": [-0.4, 0, 0.4, 0.8], "format": ".1f", "domain": false, "labelFontSize": 10, "labelColor": "#4d4d4d", "titleFontSize": 12, "titleFontWeight": "normal", "titleColor": "black", "tickSize": 3, "tickColor": "#333", "labelPadding": 2, "titlePadding": 3}},
                "y": {"field": "y", "type": "quantitative", "scale": {"domain": [-0.65, 0.81], "nice": false, "zero": false},
                      "axis": {"title": "Axis 2\u00a0\u00a0\u00a0(18.7%)", "values": [-0.4, 0, 0.4, 0.8], "format": ".1f", "domain": false, "labelFontSize": 10, "labelColor": "#4d4d4d", "titleFontSize": 12, "titleFontWeight": "normal", "titleColor": "black", "tickSize": 3, "tickColor": "#333", "labelPadding": 2, "titlePadding": 1}},
                "color": {"field": "diet", "type": "nominal", "scale": {"domain": ["Carbohydrate", "High Fat"], "range": ["#bdb9b9", "#9b1b1b"]}, "legend": null},
                "order": {"field": "k", "type": "quantitative"}
              }
            },
            {
              "data": {"name": "epts"},
              "mark": {"type": "line", "strokeDash": [4, 3], "color": "black", "strokeWidth": 1.5},
              "encoding": {"x": {"field": "x", "type": "quantitative"}, "y": {"field": "y", "type": "quantitative"}, "detail": {"field": "pair", "type": "nominal"}}
            },
            {
              "data": {"name": "epts"},
              "mark": {"type": "circle", "size": 45, "opacity": 1},
              "encoding": {"x": {"field": "x", "type": "quantitative"}, "y": {"field": "y", "type": "quantitative"}, "color": {"field": "diet", "type": "nominal", "legend": null}}
            },
            {
              "data": {"values": [{"t": "=0.82"}]},
              "mark": {"type": "text", "text": "p", "fontStyle": "italic", "align": "right", "fontSize": 10.5, "baseline": "middle"},
              "encoding": {"x": {"datum": 0.52, "type": "quantitative"}, "y": {"datum": 0.73, "type": "quantitative"}}
            },
            {
              "data": {"values": [{"t": "=0.82"}]},
              "mark": {"type": "text", "align": "left", "fontSize": 10.5, "baseline": "middle"},
              "encoding": {"x": {"datum": 0.52, "type": "quantitative"}, "y": {"datum": 0.73, "type": "quantitative"}, "text": {"field": "t"}}
            }
          ]
        }
      ]
    }
  ]
}
